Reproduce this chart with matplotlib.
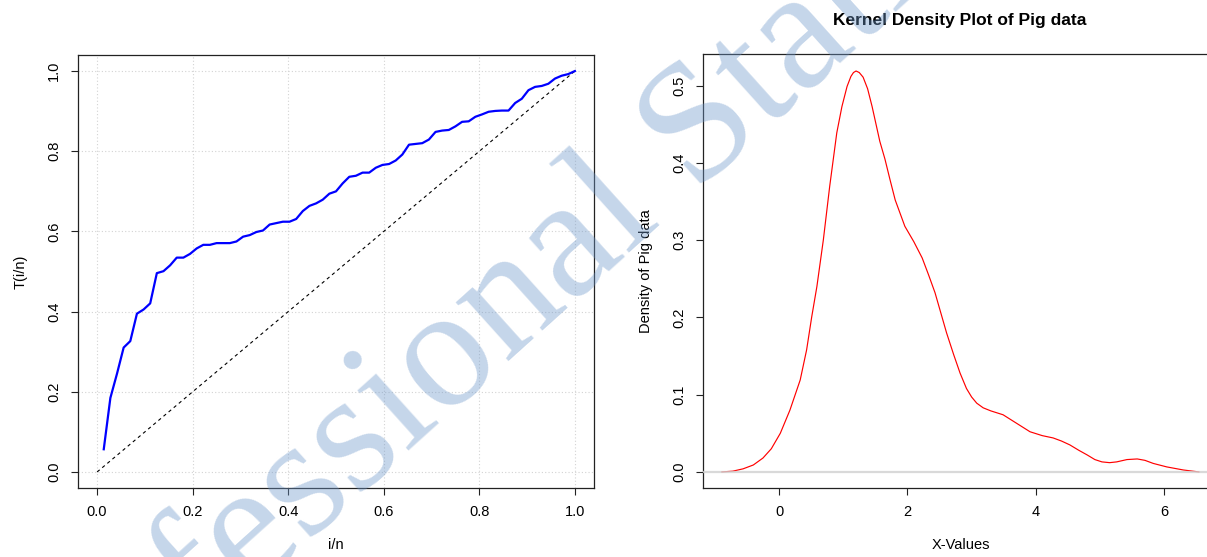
import numpy as np
import matplotlib
matplotlib.use("Agg")
import matplotlib.pyplot as plt

plt.rcParams['font.family'] = ['Liberation Sans', 'DejaVu Sans']

# ---- Left panel: TTT plot values T(i/n), n = 72 ----
ttt_values = [
    0.0566, 0.1848, 0.2453, 0.3103, 0.3264, 0.3948, 0.4052, 0.4205, 0.4959, 0.5008,
    0.5154, 0.5346, 0.5346, 0.5439, 0.5575, 0.5665, 0.5665, 0.5708, 0.5708, 0.5708,
    0.5749, 0.5869, 0.5908, 0.5985, 0.6023, 0.6171, 0.6207, 0.6242, 0.6242, 0.6310,
    0.6508, 0.6637, 0.6699, 0.6791, 0.6941, 0.6999, 0.7197, 0.7362, 0.7388, 0.7466,
    0.7466, 0.7588, 0.7658, 0.7681, 0.7769, 0.7918, 0.8163, 0.8182, 0.8201, 0.8291,
    0.8482, 0.8515, 0.8530, 0.8620, 0.8733, 0.8746, 0.8859, 0.8918, 0.8984, 0.9005,
    0.9014, 0.9014, 0.9203, 0.9309, 0.9522, 0.9605, 0.9628, 0.9683, 0.9812, 0.9883,
    0.9924, 1.0000,
]
ttt_ticks = [0.0, 0.2, 0.4, 0.6, 0.8, 1.0]
ttt_ticklabels = ["0.0", "0.2", "0.4", "0.6", "0.8", "1.0"]

# ---- Right panel: kernel density curve ----
dens_x = [-0.89, -0.72, -0.56, -0.40, -0.25, -0.12, 0.02, 0.17, 0.33, 0.43, 0.51, 0.59,
          0.69, 0.79, 0.90, 0.98, 1.06, 1.12, 1.16, 1.20, 1.25, 1.31, 1.38, 1.45,
          1.57, 1.65, 1.73, 1.81, 1.96, 2.10, 2.23, 2.33, 2.43, 2.61, 2.72, 2.82,
          2.92, 3.00, 3.08, 3.18, 3.30, 3.49, 3.70, 3.91, 4.10, 4.27, 4.40, 4.53,
          4.67, 4.80, 4.92, 5.03, 5.15, 5.26, 5.42, 5.58, 5.70, 5.83, 6.04, 6.30, 6.54]
dens_y = [0.0, 0.001, 0.004, 0.009, 0.018, 0.030, 0.050, 0.080, 0.119, 0.158, 0.201, 0.240,
          0.300, 0.370, 0.439, 0.473, 0.499, 0.512, 0.517, 0.519, 0.517, 0.511, 0.496, 0.473,
          0.428, 0.405, 0.378, 0.352, 0.318, 0.298, 0.277, 0.255, 0.232, 0.180, 0.152, 0.128,
          0.108, 0.097, 0.089, 0.083, 0.079, 0.074, 0.063, 0.052, 0.047, 0.044, 0.040, 0.035,
          0.028, 0.022, 0.016, 0.013, 0.012, 0.013, 0.016, 0.0168, 0.015, 0.011, 0.0065, 0.0025, 0.0]
dens_xticks = [0, 2, 4, 6]
dens_yticks = [0.0, 0.1, 0.2, 0.3, 0.4, 0.5]
dens_yticklabels = ["0.0", "0.1", "0.2", "0.3", "0.4", "0.5"]

W, H = 1207, 557
fig = plt.figure(figsize=(W / 100, H / 100), dpi=100)

FS = 10.5
SPINE = '#222222'


def style_axes(ax):
    for s in ax.spines.values():
        s.set_color(SPINE)
        s.set_linewidth(0.9)
    ax.tick_params(direction='out', length=5, width=0.8, color=SPINE,
                   labelsize=FS, pad=7)
    for lab in ax.get_yticklabels():
        lab.set_rotation(90)
        lab.set_va('center')


# Left axes
ax1 = fig.add_axes([78 / W, 1 - 488 / H, 516 / W, 433 / H])
n = len(ttt_values)
i_over_n = np.arange(1, n + 1) / n
ax1.set_xlim(-0.04, 1.04)
ax1.set_ylim(-0.04, 1.04)
for t in ttt_ticks:
    ax1.axvline(t, color='#d3d3d3', lw=0.8, ls=(0, (1, 2)), zorder=0)
    ax1.axhline(t, color='#d3d3d3', lw=0.8, ls=(0, (1, 2)), zorder=0)
ax1.plot([0, 1], [0, 1], color='black', lw=0.8, ls=(0, (3, 3)), zorder=2)
ax1.plot(i_over_n, ttt_values, color='#0000ff', lw=1.6, zorder=3)
ax1.set_xticks(ttt_ticks)
ax1.set_xticklabels(ttt_ticklabels)
ax1.set_yticks(ttt_ticks)
ax1.set_yticklabels(ttt_ticklabels)
style_axes(ax1)
ax1.set_xlabel("i/n", fontsize=FS, labelpad=14)
ax1.set_ylabel("T(i/n)", fontsize=FS, labelpad=14)

# Right axes
ax2 = fig.add_axes([703 / W, 1 - 488 / H, 515 / W, 434 / H])
ax2.set_xlim(-1.184, 6.838)
ax2.set_ylim(-0.0208, 0.541)
ax2.plot(dens_x, dens_y, color='#ff0000', lw=0.85, zorder=2)
ax2.axhline(0, color='#d0d0d0', lw=1.6, alpha=0.8, zorder=3)
ax2.set_xticks(dens_xticks)
ax2.set_xticklabels([str(v) for v in dens_xticks])
ax2.set_yticks(dens_yticks)
ax2.set_yticklabels(dens_yticklabels)
style_axes(ax2)
ax2.set_xlabel("X-Values", fontsize=FS, labelpad=14)
ax2.set_ylabel("Density of Pig data", fontsize=FS, labelpad=14)
fig.text(960 / W, 1 - 20 / H, "Kernel Density Plot of Pig data",
         ha='center', va='center', fontsize=12.5, fontweight='bold')

# Watermark
fig.text(30 / W, 1 - 793 / H, "Professional Statistics",
         family=['Liberation Serif', 'DejaVu Serif'], fontsize=124,
         color='#6e98ca', alpha=0.4, rotation=42, rotation_mode='anchor',
         ha='left', va='baseline', zorder=10)

fig.savefig("out.png", dpi=100)
